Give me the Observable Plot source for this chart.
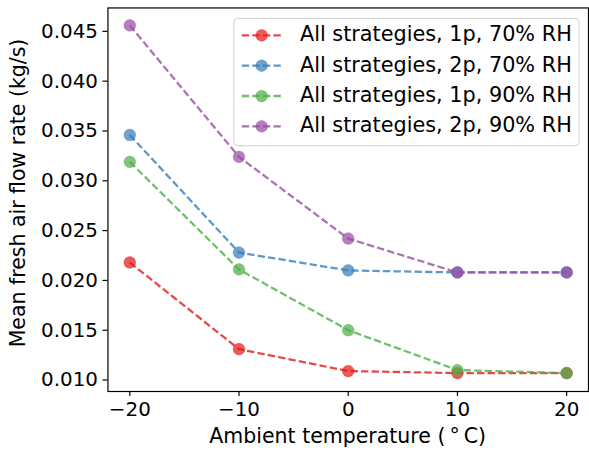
<!DOCTYPE html>
<html>
<head>
<meta charset="utf-8">
<script src="https://cdn.jsdelivr.net/npm/d3@7"></script>
<script src="https://cdn.jsdelivr.net/npm/@observablehq/plot@0.6"></script>
<style>
  html, body { margin: 0; padding: 0; background: #fff; }
  #chart { position: relative; width: 589px; height: 454px; overflow: hidden; }
</style>
</head>
<body>
<div id="chart"></div>
<script>
// Ambient temperature (°C) on the x axis
const temps = [-20, -10, 0, 10, 20];

// Series labels, in drawing order
const seriesNames = [
  "All strategies, 1p, 70% RH",
  "All strategies, 2p, 70% RH",
  "All strategies, 1p, 90% RH",
  "All strategies, 2p, 90% RH"
];

// Mean fresh air flow rate (kg/s) per series
const flow1p70 = [0.0218, 0.0131, 0.0109, 0.0107, 0.0107];
const flow2p70 = [0.0346, 0.0228, 0.0210, 0.0208, 0.0208];
const flow1p90 = [0.0319, 0.0211, 0.0150, 0.0110, 0.0107];
const flow2p90 = [0.0456, 0.0324, 0.0242, 0.0208, 0.0208];

const xTicks = [-20, -10, 0, 10, 20];
const yTicks = [0.010, 0.015, 0.020, 0.025, 0.030, 0.035, 0.040, 0.045];

const palette = ["#e41a1c", "#377eb8", "#4daf4a", "#984ea3"];

const allSeries = [flow1p70, flow2p70, flow1p90, flow2p90];
const rows = allSeries.flatMap((vals, s) =>
  temps.map((t, i) => ({series: seriesNames[s], temp: t, flow: vals[i]}))
);

const FONT = "DejaVu Sans, sans-serif";
const TICK_FS = 20;
const LABEL_FS = 20.6;
const LEGEND_FS = 20.9;
const dash = "7.4,3.2";
const R = 5.9;

// one line + markers per series, drawn in order so later series sit on top
const seriesMarks = seriesNames.flatMap((name, s) => {
  const d = rows.filter(r => r.series === name);
  return [
    Plot.line(d, {x: "temp", y: "flow", stroke: palette[s], strokeOpacity: 0.8,
      strokeWidth: 2.3, strokeDasharray: dash, strokeLinecap: "butt"}),
    Plot.dot(d, {x: "temp", y: "flow", r: R, fill: palette[s], fillOpacity: 0.72,
      stroke: palette[s], strokeOpacity: 0.35, strokeWidth: 1})
  ];
});

const plot = Plot.plot({
  width: 592,
  height: 454,
  marginLeft: 108,
  marginRight: 1,
  marginTop: 7.5,
  marginBottom: 61,
  style: {fontFamily: FONT, fontSize: TICK_FS + "px", color: "#000", background: "#fff"},
  x: {domain: [-22, 22]},
  y: {domain: [0.00885, 0.04735]},
  marks: [
    ...seriesMarks,
    Plot.frame({stroke: "#000", strokeWidth: 1.2}),
    Plot.axisX({ticks: xTicks, tickSize: 5, tickPadding: 5, label: null,
      tickFormat: d => d3.format("d")(d), fontSize: TICK_FS, strokeWidth: 1.2}),
    Plot.axisY({ticks: yTicks, tickSize: 5, tickPadding: 5, label: null,
      tickFormat: d3.format(".3f"), fontSize: TICK_FS, strokeWidth: 1.2})
  ]
});

document.getElementById("chart").appendChild(plot);

const svg = d3.select(plot);

// axis titles
svg.append("text")
  .attr("x", 349.5).attr("y", 439)
  .attr("text-anchor", "middle").attr("dominant-baseline", "middle")
  .attr("font-family", FONT).attr("font-size", LABEL_FS).attr("fill", "#000")
  .text("Ambient temperature (\u2009\u00b0\u2009C)");

svg.append("text")
  .attr("transform", "translate(19,194) rotate(-90)")
  .attr("text-anchor", "middle").attr("dominant-baseline", "middle")
  .attr("font-family", FONT).attr("font-size", LABEL_FS).attr("fill", "#000")
  .text("Mean fresh air flow rate (kg/s)");

// legend
const lg = svg.append("g");
lg.append("rect")
  .attr("x", 235).attr("y", 18.5).attr("width", 347).attr("height", 128)
  .attr("rx", 4).attr("fill", "#fff").attr("fill-opacity", 0.8)
  .attr("stroke", "#d0d0d0").attr("stroke-width", 1);
seriesNames.forEach((name, s) => {
  const y = 35.5 + s * 30.5;
  lg.append("line")
    .attr("x1", 243).attr("x2", 283).attr("y1", y).attr("y2", y)
    .attr("stroke", palette[s]).attr("stroke-opacity", 0.8)
    .attr("stroke-width", 2.3).attr("stroke-dasharray", dash);
  lg.append("circle")
    .attr("cx", 263).attr("cy", y).attr("r", R)
    .attr("fill", palette[s]).attr("fill-opacity", 0.72)
    .attr("stroke", palette[s]).attr("stroke-opacity", 0.35);
  lg.append("text")
    .attr("x", 301.5).attr("y", y)
    .attr("text-anchor", "start")
    .attr("dominant-baseline", "middle")
    .attr("font-family", FONT).attr("font-size", LEGEND_FS).attr("fill", "#000")
    .text(name);
});
</script>
</body>
</html>
